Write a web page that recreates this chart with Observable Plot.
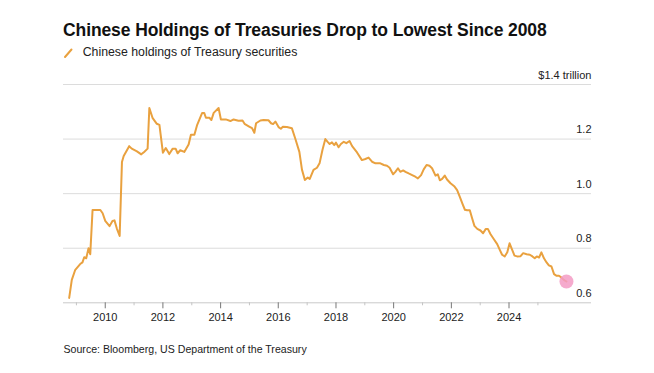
<!DOCTYPE html>
<html>
<head>
<meta charset="utf-8">
<script src="https://cdn.jsdelivr.net/npm/d3@7"></script>
<script src="https://cdn.jsdelivr.net/npm/@observablehq/plot@0.6"></script>
<style>
  html, body { margin: 0; padding: 0; background: #fff; }
  #wrap { position: relative; width: 654px; height: 373px; font-family: "Liberation Sans", Arial, sans-serif; background: #fff; overflow: hidden; }
  .title { position: absolute; left: 63px; top: 21.9px; font-size: 17.5px; line-height: 1; font-weight: bold; letter-spacing: -0.1px; color: #111; white-space: nowrap; }
  .legend-swatch { position: absolute; left: 63px; top: 47px; }
  .legend-text { position: absolute; left: 82.7px; top: 46.3px; font-size: 12.3px; line-height: 1; color: #222; white-space: nowrap; }
  #chart { position: absolute; left: 0; top: 60px; width: 654px; }
  .source { position: absolute; left: 63.5px; top: 343.6px; font-size: 10.6px; line-height: 1; color: #222; white-space: nowrap; }
</style>
</head>
<body>
<div id="wrap">
  <div class="title">Chinese Holdings of Treasuries Drop to Lowest Since 2008</div>
  <svg class="legend-swatch" width="12" height="12"><line x1="2" y1="10" x2="8.5" y2="2.5" stroke="#e9a13f" stroke-width="2" stroke-linecap="round"/></svg>
  <div class="legend-text">Chinese holdings of Treasury securities</div>
  <div id="chart"></div>
  <div class="source">Source: Bloomberg, US Department of the Treasury</div>
</div>
<script>
// Positions in time (decimal years) and values (US$ trillion)
const when = [
  2008.75, 2008.84, 2008.96, 2009.13, 2009.21, 2009.27, 2009.34, 2009.42, 2009.48, 2009.56,
  2009.83, 2009.91, 2010.00, 2010.15, 2010.25, 2010.32, 2010.40, 2010.50, 2010.58, 2010.64,
  2010.83, 2010.92, 2011.10, 2011.25, 2011.35, 2011.47, 2011.53, 2011.64, 2011.79, 2011.88,
  2012.00, 2012.10, 2012.22, 2012.34, 2012.44, 2012.51, 2012.60, 2012.74, 2012.89, 2012.97,
  2013.09, 2013.18, 2013.36, 2013.43, 2013.49, 2013.61, 2013.68, 2013.76, 2013.93, 2014.01,
  2014.18, 2014.34, 2014.45, 2014.62, 2014.76, 2014.83, 2014.99, 2015.09, 2015.17, 2015.23,
  2015.38, 2015.49, 2015.66, 2015.75, 2015.82, 2015.90, 2016.01, 2016.09, 2016.16, 2016.30,
  2016.47, 2016.59, 2016.73, 2016.82, 2016.92, 2017.02, 2017.09, 2017.22, 2017.34, 2017.43,
  2017.53, 2017.63, 2017.71, 2017.78, 2017.86, 2017.94, 2018.00, 2018.09, 2018.17, 2018.27,
  2018.36, 2018.47, 2018.56, 2018.73, 2018.90, 2019.02, 2019.13, 2019.25, 2019.37, 2019.54,
  2019.66, 2019.77, 2019.86, 2019.98, 2020.06, 2020.15, 2020.23, 2020.33, 2020.41, 2020.52,
  2020.64, 2020.75, 2020.84, 2020.95, 2021.04, 2021.14, 2021.24, 2021.33, 2021.45, 2021.53,
  2021.60, 2021.68, 2021.77, 2021.85, 2021.97, 2022.11, 2022.20, 2022.29, 2022.40, 2022.47,
  2022.55, 2022.64, 2022.72, 2022.80, 2022.90, 2023.01, 2023.10, 2023.19, 2023.27, 2023.36,
  2023.47, 2023.59, 2023.68, 2023.76, 2023.85, 2023.94, 2024.02, 2024.11, 2024.19, 2024.28,
  2024.40, 2024.49, 2024.61, 2024.72, 2024.81, 2024.89, 2024.96, 2025.04, 2025.12, 2025.21,
  2025.30, 2025.38, 2025.47, 2025.56, 2025.65, 2025.73, 2025.81, 2025.90, 2025.99
];
const holdings = [
  0.618, 0.684, 0.721, 0.742, 0.748, 0.767, 0.763, 0.800, 0.778, 0.940,
  0.940, 0.928, 0.900, 0.881, 0.900, 0.902, 0.873, 0.845, 1.116, 1.138,
  1.174, 1.165, 1.155, 1.144, 1.153, 1.165, 1.314, 1.278, 1.256, 1.252,
  1.150, 1.167, 1.145, 1.165, 1.165, 1.148, 1.159, 1.153, 1.180, 1.216,
  1.216, 1.250, 1.296, 1.296, 1.278, 1.278, 1.270, 1.296, 1.314, 1.272,
  1.272, 1.266, 1.272, 1.267, 1.268, 1.256, 1.246, 1.240, 1.223, 1.258,
  1.268, 1.270, 1.269, 1.258, 1.255, 1.264, 1.244, 1.238, 1.245, 1.244,
  1.240, 1.201, 1.153, 1.088, 1.050, 1.059, 1.054, 1.087, 1.095, 1.111,
  1.160, 1.200, 1.190, 1.182, 1.188, 1.178, 1.187, 1.170, 1.182, 1.190,
  1.185, 1.193, 1.174, 1.151, 1.123, 1.127, 1.132, 1.117, 1.111, 1.111,
  1.105, 1.102, 1.095, 1.071, 1.080, 1.093, 1.080, 1.085, 1.080, 1.074,
  1.068, 1.062, 1.056, 1.068, 1.089, 1.105, 1.102, 1.093, 1.066, 1.071,
  1.049, 1.054, 1.066, 1.052, 1.038, 1.026, 1.013, 0.989, 0.959, 0.941,
  0.939, 0.939, 0.910, 0.882, 0.871, 0.865, 0.855, 0.870, 0.870, 0.851,
  0.834, 0.815, 0.794, 0.776, 0.770, 0.785, 0.818, 0.794, 0.773, 0.770,
  0.771, 0.782, 0.778, 0.776, 0.770, 0.763, 0.770, 0.766, 0.785, 0.763,
  0.748, 0.737, 0.733, 0.705, 0.699, 0.699, 0.693, 0.684, 0.678
];
const yTicks = [0.6, 0.8, 1.0, 1.2, 1.4];
const majorYears = [2010, 2012, 2014, 2016, 2018, 2020, 2022, 2024];
const minorYears = [2009, 2011, 2013, 2015, 2017, 2019, 2021, 2023, 2025];
const xExtent = [2008.553, 2026.859];

function toDate(t) {
  const y = Math.floor(t);
  const a = Date.UTC(y, 0, 1), b = Date.UTC(y + 1, 0, 1);
  return new Date(a + (t - y) * (b - a));
}
const data = when.map((t, i) => ({date: toDate(t), value: holdings[i]}));
const last = [data[data.length - 1]];
const fmtY = d => d === 1.4 ? "$1.4 trillion" : d.toFixed(1);

const chart = Plot.plot({
  width: 654,
  height: 270,
  marginTop: 24,
  marginBottom: 27.7,
  marginLeft: 63,
  marginRight: 63,
  style: {fontFamily: "'Liberation Sans', Arial, sans-serif", fontSize: "11px", color: "#222", background: "#fff"},
  x: {type: "utc", domain: xExtent.map(toDate)},
  y: {domain: [0.6, 1.4], axis: null},
  marks: [
    Plot.ruleY(yTicks.filter(d => d > 0.6), {stroke: "#dcdcdc", strokeWidth: 1}),
    Plot.ruleY([0.6], {stroke: "#c9c9c9", strokeWidth: 1}),
    Plot.axisX(minorYears.map(y => toDate(y)), {tickSize: 3, tickFormat: () => "", stroke: "#c4c4c4", label: null}),
    Plot.axisX(majorYears.map(y => toDate(y)), {tickSize: 6, tickPadding: 4, tickFormat: d3.utcFormat("%Y"), stroke: "#777", fill: "#222", label: null}),
    Plot.text(yTicks, {y: d => d, text: fmtY, frameAnchor: "right", textAnchor: "end", dy: -9.5, fill: "#222"}),
    Plot.line(data, {x: "date", y: "value", stroke: "#e9a13f", strokeWidth: 2, strokeLinejoin: "round"}),
    Plot.dot(last, {x: "date", y: "value", r: 7, fill: "#f39bc4", fillOpacity: 0.85, stroke: "none"})
  ]
});
document.getElementById("chart").appendChild(chart);
</script>
</body>
</html>
